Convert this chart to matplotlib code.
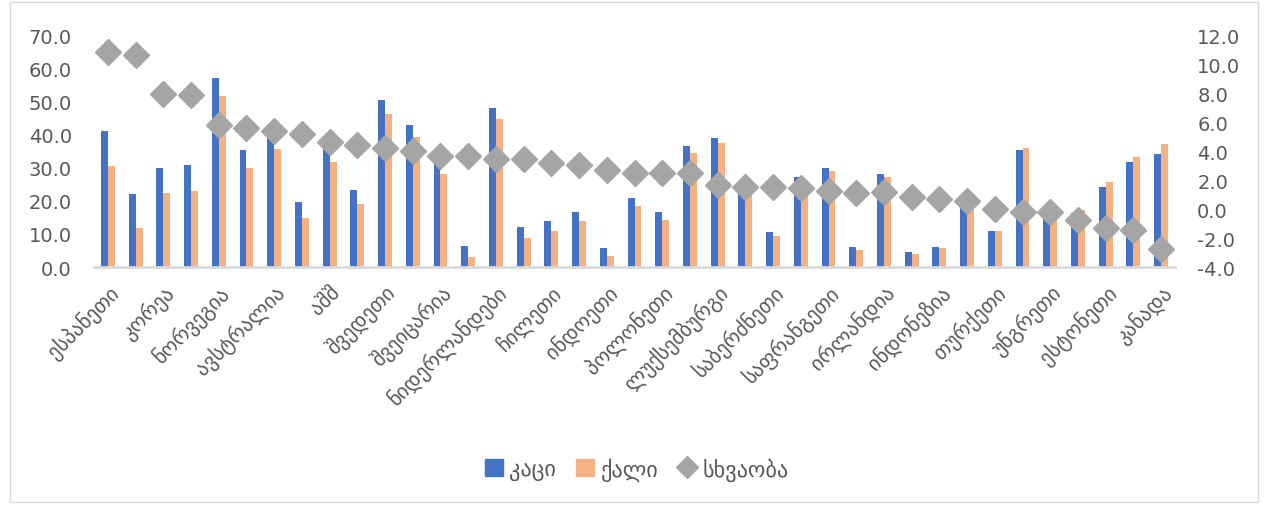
import matplotlib
matplotlib.use("Agg")
import matplotlib.pyplot as plt
import numpy as np
from matplotlib.patches import Rectangle
from matplotlib.lines import Line2D
from matplotlib.patches import Patch

plt.rcParams['font.family'] = ['DejaVu Sans']

# Tick labels shown (every other category)
shown_labels = ["ესპანეთი", "კორეა", "ნორვეგია", "ავსტრალია", "აშშ", "შვედეთი",
                "შვეიცარია", "ნიდერლანდები", "ჩილეთი", "ინდოეთი", "პოლონეთი",
                "ლუქსემბურგი", "საბერძნეთი", "საფრანგეთი", "ირლანდია", "ინდონეზია",
                "თურქეთი", "უნგრეთი", "ესტონეთი", "კანადა"]

men = [41.1, 22.1, 30.0, 30.8, 57.3, 35.5, 41.2, 19.7, 36.4, 23.2,
       50.5, 43.0, 31.9, 6.4, 48.1, 12.0, 13.8, 16.6, 5.8, 20.8,
       16.6, 36.7, 38.9, 24.2, 10.6, 27.3, 30.0, 6.1, 28.2, 4.5,
       6.2, 20.6, 10.8, 35.5, 14.6, 16.4, 24.2, 31.7, 34.3]
women = [30.5, 11.7, 22.3, 23.1, 51.6, 30.1, 35.8, 14.9, 31.8, 19.1,
         46.4, 39.3, 28.2, 2.9, 44.8, 8.8, 10.9, 13.8, 3.4, 18.6,
         14.2, 34.4, 37.5, 22.7, 9.4, 26.0, 29.1, 5.2, 27.2, 3.9,
         5.6, 20.0, 11.0, 36.0, 14.9, 17.3, 25.8, 33.3, 37.3]
diff = [10.87, 10.68, 7.98, 7.90, 5.83, 5.60, 5.44, 5.20, 4.63, 4.45,
        4.24, 4.00, 3.71, 3.66, 3.48, 3.48, 3.20, 3.08, 2.71, 2.51,
        2.48, 2.48, 1.68, 1.52, 1.52, 1.47, 1.28, 1.12, 1.17, 0.87,
        0.71, 0.59, 0.01, -0.22, -0.22, -0.75, -1.33, -1.42, -2.76]

series_names = ["კაცი", "ქალი", "სხვაობა"]
left_ticks = [0, 10, 20, 30, 40, 50, 60, 70]
right_ticks = [-4, -2, 0, 2, 4, 6, 8, 10, 12]

BLUE = "#4472c4"
ORANGE = "#f4b183"
GRAY = "#a5a5a5"
TXT = "#595959"

fig = plt.figure(figsize=(12.68, 5.06), dpi=100)
ax = fig.add_axes([94/1268, 1-268/506, (1175-94)/1268, (268-36.7)/506])
x = np.arange(len(men))
w = 0.25
ax.bar(x - w/2, men, width=w, color=BLUE, zorder=2)
ax.bar(x + w/2, women, width=w, color=ORANGE, zorder=2)
ax.set_xlim(-0.5, len(men) - 0.5)
ax.set_ylim(0, 70)
ax.set_yticks(left_ticks)
ax.set_yticklabels([f"{v:.1f}" for v in left_ticks])
ax.set_xticks(x[::2])
ax.set_xticklabels(shown_labels, rotation=45, ha='right', va='top',
                   rotation_mode='anchor', fontsize=15, color=TXT)
for s in ['top', 'right', 'left']:
    ax.spines[s].set_visible(False)
ax.spines['bottom'].set_color('#d9d9d9')
ax.spines['bottom'].set_linewidth(2)
ax.tick_params(axis='y', length=0, pad=16, labelsize=14, labelcolor=TXT)
ax.tick_params(axis='x', length=0, pad=10)

ax2 = ax.twinx()
ax2.plot(x, diff, linestyle='none', marker='D', markersize=13.5, color=GRAY, zorder=3)
ax2.set_ylim(-4, 12)
ax2.set_yticks(right_ticks)
ax2.set_yticklabels([f"{v:.1f}" for v in right_ticks])
for s in ['top', 'right', 'left', 'bottom']:
    ax2.spines[s].set_visible(False)
ax2.tick_params(axis='y', length=0, pad=16, labelsize=14, labelcolor=TXT)

handles = [Patch(color=BLUE), Patch(color=ORANGE),
           Line2D([], [], linestyle='none', marker='D', markersize=11, color=GRAY)]
fig.legend(handles, series_names, loc='center', bbox_to_anchor=(637/1268, 1-470/506),
           ncol=3, frameon=False, fontsize=16, labelcolor=TXT,
           handlelength=0.8, handleheight=0.8, handletextpad=0.3, columnspacing=0.9)

fig.patches.append(Rectangle((10/1268, 3/506), 1248/1268, 500/506, transform=fig.transFigure,
                             fill=False, edgecolor='#d9d9d9', linewidth=1))
fig.savefig("out.png", dpi=100)
